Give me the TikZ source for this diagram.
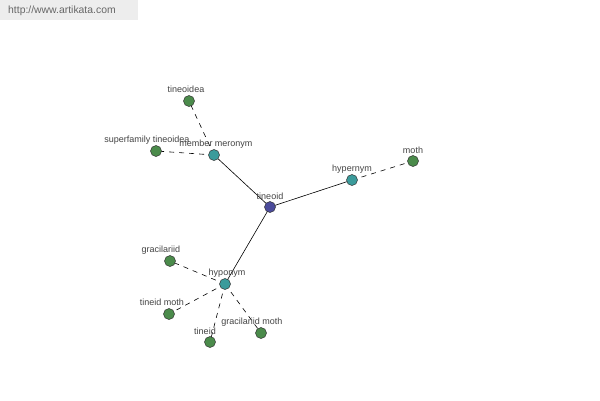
\documentclass[tikz,border=0pt]{standalone}
\usepackage{fontspec}
\setmainfont{Liberation Sans}
\definecolor{nblue}{HTML}{4B4B9B}
\definecolor{nteal}{HTML}{3B9B9B}
\definecolor{ngreen}{HTML}{4B8B4B}
\definecolor{txt}{HTML}{444444}
\begin{document}
\begin{tikzpicture}[x=1pt,y=-1pt,
  vtx/.style={circle,draw=black!80,line width=0.5pt,minimum size=11pt,inner sep=0pt},
  lbl/.style={font=\fontsize{9}{10}\selectfont,text=txt,inner sep=0pt},
  solidedge/.style={line width=0.6pt,black},
  dashedge/.style={line width=0.6pt,black,dash pattern=on 5pt off 5pt}]
\fill[white] (0,0) rectangle (600,400);
\useasboundingbox (0,0) rectangle (600,400);
\fill[black!7] (0,0) rectangle (138,20);
\node[font=\fontsize{10.4}{11}\selectfont,text=black!60,anchor=west,inner sep=0pt] (wm) at (8,11) {http://www.artikata.com};
% edges first
\coordinate (c0) at (270,207);
\coordinate (c1) at (352,180);
\coordinate (c2) at (413,161);
\coordinate (c3) at (214,155);
\coordinate (c4) at (189,101);
\coordinate (c5) at (156,151);
\coordinate (c6) at (225,284);
\coordinate (c7) at (170,261);
\coordinate (c8) at (169,314);
\coordinate (c9) at (210,342);
\coordinate (c10) at (261,333);
\draw[solidedge] (c0) -- (c1);
\draw[solidedge] (c0) -- (c3);
\draw[solidedge] (c0) -- (c6);
\draw[dashedge] (c1) -- (c2);
\draw[dashedge] (c3) -- (c4);
\draw[dashedge] (c3) -- (c5);
\draw[dashedge] (c6) -- (c7);
\draw[dashedge] (c6) -- (c8);
\draw[dashedge] (c6) -- (c9);
\draw[dashedge] (c6) -- (c10);
% nodes
\node[vtx,fill=nblue] (n0) at (c0) {};
\node[vtx,fill=nteal] (n1) at (c1) {};
\node[vtx,fill=ngreen] (n2) at (c2) {};
\node[vtx,fill=nteal] (n3) at (c3) {};
\node[vtx,fill=ngreen] (n4) at (c4) {};
\node[vtx,fill=ngreen] (n5) at (c5) {};
\node[vtx,fill=nteal] (n6) at (c6) {};
\node[vtx,fill=ngreen] (n7) at (c7) {};
\node[vtx,fill=ngreen] (n8) at (c8) {};
\node[vtx,fill=ngreen] (n9) at (c9) {};
\node[vtx,fill=ngreen] (n10) at (c10) {};
% labels
\node[lbl] (l0) at (270,196) {tineoid};
\node[lbl] (l1) at (352,169) {hypernym};
\node[lbl] (l2) at (413,150) {moth};
\node[lbl] (l3) at (216,144) {member meronym};
\node[lbl] (l4) at (186,89) {tineoidea};
\node[lbl] (l5) at (147,140) {superfamily tineoidea};
\node[lbl] (l6) at (227,273) {hyponym};
\node[lbl] (l7) at (161,250) {gracilariid};
\node[lbl] (l8) at (162,302) {tineid moth};
\node[lbl] (l9) at (205,331) {tineid};
\node[lbl] (l10) at (252,322) {gracilariid moth};
\end{tikzpicture}
\end{document}
